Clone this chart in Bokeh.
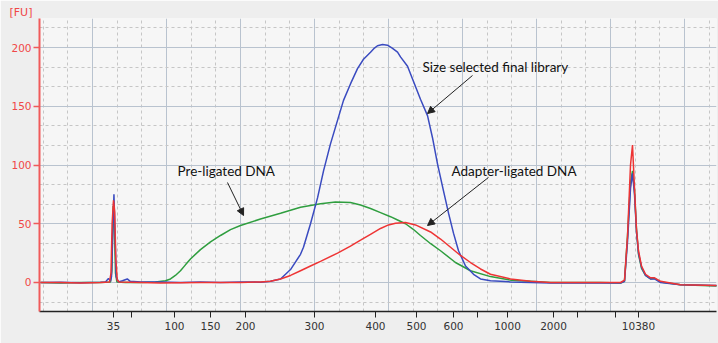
from bokeh.plotting import figure
from bokeh.models import FixedTicker, Label, Arrow, NormalHead, Range1d
from bokeh.embed import file_html
from bokeh.resources import INLINE

# ---- data (migration time in s, fluorescence in FU) ----
blue_t = [12.97, 15.68, 18.38, 21.08, 21.76, 22.16, 22.43, 22.57, 22.70, 22.90, 23.05, 23.20,
          23.51, 24.05, 24.70, 25.10, 26.49, 29.19, 31.89, 34.59, 37.30, 40.00, 42.70, 44.05,
          45.41, 46.76, 48.11, 48.51, 49.46, 50.41, 51.22, 52.16, 53.11, 53.92, 54.86, 55.81,
          56.62, 57.57, 58.10, 58.51, 59.20, 59.86, 60.50, 61.22, 61.62, 62.57, 63.38, 64.32,
          65.27, 65.95, 66.62, 67.43, 68.11, 68.78, 69.46, 70.41, 71.49, 72.43, 73.78, 76.49,
          79.19, 81.89, 88.65, 91.35, 91.89, 92.30, 92.70, 92.97, 93.24, 93.51, 93.78, 94.19,
          94.73, 95.41, 95.95, 96.76, 99.46, 104.40]
blue_fu = [0.0, 0.3, -0.3, 0.2, 0.5, 3.5, 1.0, 5.0, 35.0, 75.0, 40.0, 5.0,
           0.5, 1.5, 3.0, 1.0, 0.5, 0.5, 0.0, 0.5, 0.0, 0.5, 0.3, 1.0,
           3.0, 11.0, 24.0, 30.0, 50.0, 72.0, 95.0, 118.0, 138.0, 155.0, 169.0, 182.0,
           190.0, 196.0, 199.5, 201.5, 202.5, 202.0, 199.5, 196.0, 192.0, 184.0, 171.0, 156.0,
           142.0, 123.0, 101.0, 78.0, 59.0, 42.0, 27.0, 14.0, 7.0, 3.0, 1.5, 0.5,
           0.0, -0.5, -0.5, -0.5, 1.0, 35.0, 80.0, 93.0, 75.0, 43.0, 25.0, 13.0,
           6.0, 3.0, 3.0, 0.0, -2.0, -2.5]

green_t = [12.97, 15.68, 18.38, 21.08, 22.43, 22.62, 22.80, 22.95, 23.11, 23.30, 24.46, 26.49,
           28.50, 29.86, 30.54, 31.20, 31.89, 32.56, 33.24, 34.59, 35.95, 37.30, 38.65, 40.00,
           42.70, 45.41, 48.11, 50.81, 52.84, 54.86, 56.22, 57.57, 58.92, 60.27, 61.30, 62.30,
           63.30, 64.32, 65.70, 67.03, 69.05, 71.08, 73.78, 76.49, 79.19, 81.89, 88.65, 91.35,
           91.89, 92.30, 92.70, 92.97, 93.24, 93.51, 93.78, 94.19, 94.73, 95.41, 95.95, 96.76,
           99.46, 104.40]
green_fu = [0.0, -0.5, 0.0, 0.0, 0.5, 10.0, 65.0, 50.0, 8.0, 0.5, 0.0, 0.0,
            0.5, 1.5, 3.0, 6.0, 10.0, 15.0, 20.0, 28.0, 34.5, 40.0, 45.0, 48.5,
            54.0, 59.0, 64.0, 67.0, 68.5, 68.0, 66.0, 63.0, 59.5, 56.0, 53.0, 50.0,
            45.5, 40.0, 33.0, 27.0, 17.0, 10.0, 5.0, 2.0, 1.0, 0.0, 0.0, -0.5,
            1.0, 40.0, 85.0, 95.0, 78.0, 45.0, 24.0, 12.0, 6.0, 3.0, 3.5, 0.5,
            -2.0, -3.0]

red_t = [12.97, 15.68, 18.38, 21.08, 22.30, 22.50, 22.65, 22.84, 23.00, 23.15, 23.35, 23.60,
         26.49, 29.19, 34.59, 40.00, 42.70, 44.05, 45.41, 46.76, 48.11, 49.46, 50.81, 53.11,
         54.86, 56.22, 57.57, 58.92, 60.00, 60.95, 62.30, 63.65, 65.68, 67.03, 68.38, 69.73,
         71.08, 72.43, 73.78, 76.49, 79.19, 81.89, 88.65, 91.35, 91.89, 92.30, 92.70, 92.97,
         93.24, 93.51, 93.78, 94.19, 94.73, 95.41, 95.95, 96.76, 99.46, 104.40]
red_fu = [0.0, 0.0, -0.5, 0.0, 0.5, 8.0, 50.0, 70.0, 60.0, 20.0, 2.0, 0.5,
          0.0, -0.5, 0.0, 0.0, 0.5, 1.0, 3.0, 6.0, 10.0, 14.0, 18.0, 25.0,
          31.0, 36.0, 41.0, 46.0, 49.0, 50.5, 51.0, 49.0, 43.0, 37.0, 30.0, 23.0,
          17.0, 11.5, 7.0, 3.0, 1.0, 0.0, 0.0, 0.0, 2.0, 40.0, 100.0, 117.0,
          80.0, 45.0, 27.0, 14.0, 7.0, 4.0, 4.0, 1.0, -2.0, -2.5]

# size-ladder tick positions (s) and their bp labels
tick_pos = [22.84, 25.27, 31.08, 35.95, 40.68, 50.00, 58.24, 63.78, 68.78, 72.03,
            76.08, 82.30, 85.54, 90.68, 93.78]
tick_lab = ["35", "", "100", "150", "200", "300", "400", "500", "600", "",
            "1000", "2000", "", "", "10380"]

grid_major_x = [20, 30, 40, 50, 60, 70, 80, 90, 100]
grid_minor_x = [13.33, 16.67, 23.33, 26.67, 33.33, 36.67, 43.33, 46.67, 53.33, 56.67,
                63.33, 66.67, 73.33, 76.67, 83.33, 86.67, 93.33, 96.67, 103.33]
y_ticks = [0, 50, 100, 150, 200]
grid_minor_y = [-16.67, 16.67, 33.33, 66.67, 83.33, 116.67, 133.33, 166.67, 183.33, 216.67]

notes = ["Size selected final library", "Pre-ligated DNA", "Adapter-ligated DNA"]
note_xy = [(64.59, 183.0), (31.49, 95.3), (68.51, 95.3)]
arrows = [((71.35, 176.2), (65.27, 143.8)),
          ((38.24, 85.1), (40.41, 57.0)),
          ((73.51, 89.4), (65.27, 48.5))]

# ---- figure ----
p = figure(width=718, height=343, output_backend="svg", toolbar_location=None,
           x_range=Range1d(12.84, 104.32), y_range=Range1d(-24.7, 224.7),
           min_border_left=39, min_border_right=2, min_border_top=18, min_border_bottom=32,
           title="[FU]")
p.background_fill_color = "#f6f6f6"
p.border_fill_color = "#eeeeee"
p.outline_line_color = None

# unit label as title at top-left
p.title.text_color = "#f04848"
p.title.text_font = "DejaVu Sans"
p.title.text_font_size = "11px"
p.title.text_font_style = "normal"
p.title.align = "left"
p.title.offset = -30
p.title.standoff = 0

# grids
p.xgrid.ticker = FixedTicker(ticks=grid_major_x, minor_ticks=grid_minor_x)
p.ygrid.ticker = FixedTicker(ticks=y_ticks, minor_ticks=grid_minor_y)
for g in (p.xgrid, p.ygrid):
    g.grid_line_color = "#b9c3cf"
    g.grid_line_width = 1
    g.minor_grid_line_color = "#c6c6c6"
    g.minor_grid_line_dash = "3 3"
    g.minor_grid_line_width = 1

# x axis
xa = p.xaxis[0]
xa.ticker = FixedTicker(ticks=tick_pos, minor_ticks=[])
xa.major_label_overrides = {t: l for t, l in zip(tick_pos, tick_lab)}
xa.axis_line_color = "#222222"
xa.axis_line_width = 1.5
xa.major_tick_line_color = "#222222"
xa.major_tick_in = 0
xa.major_tick_out = 6
xa.minor_tick_line_color = None
xa.major_label_text_font = "DejaVu Sans"
xa.major_label_text_font_size = "10.5px"
xa.major_label_text_color = "#333333"
xa.major_label_standoff = 4

# y axis
ya = p.yaxis[0]
ya.ticker = FixedTicker(ticks=y_ticks, minor_ticks=[])
ya.axis_line_color = "#f05a5a"
ya.axis_line_width = 2
ya.major_tick_line_color = "#f05a5a"
ya.major_tick_line_width = 1.5
ya.major_tick_in = 0
ya.major_tick_out = 6
ya.minor_tick_line_color = None
ya.major_label_text_font = "DejaVu Sans"
ya.major_label_text_font_size = "10.5px"
ya.major_label_text_color = "#f04848"
ya.major_label_standoff = 2

# traces
p.line(green_t, green_fu, line_color="#2f9e3f", line_width=1.5)
p.line(blue_t, blue_fu, line_color="#3a4bc0", line_width=1.5)
p.line(red_t, red_fu, line_color="#ee3434", line_width=1.5)

# annotations
for txt, (lx, ly) in zip(notes, note_xy):
    p.add_layout(Label(x=lx, y=ly, text=txt, text_align="left", text_baseline="middle",
                       text_font="Lato", text_font_size="13.5px", text_color="#111111"))
for (s, e) in arrows:
    p.add_layout(Arrow(x_start=s[0], y_start=s[1], x_end=e[0], y_end=e[1],
                       line_color="#222222", line_width=1,
                       end=NormalHead(size=7, fill_color="#222222", line_color="#222222")))

open("out.html", "w").write(file_html(p, INLINE))
